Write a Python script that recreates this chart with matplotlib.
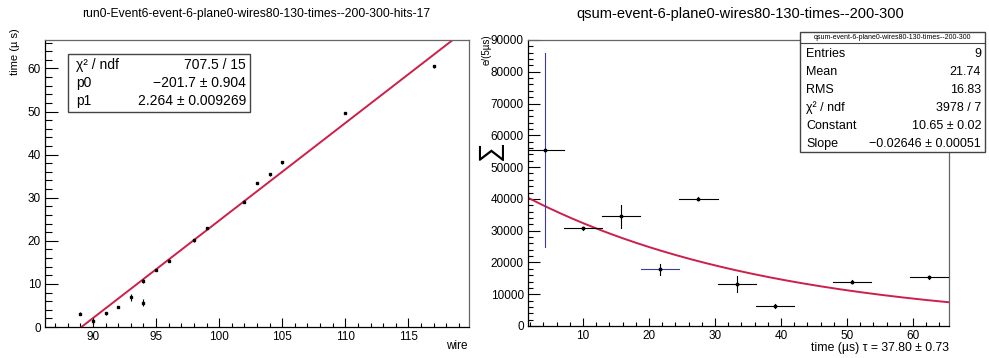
import numpy as np
import matplotlib
matplotlib.use("Agg")
import matplotlib.pyplot as plt
from matplotlib.patches import Rectangle
from matplotlib.ticker import MultipleLocator

plt.rcParams['font.family'] = ['Liberation Sans', 'DejaVu Sans']

# ------------------------------------------------------------
# hits: wire vs time, with the linear fit result
# ------------------------------------------------------------
hit_wire = [89, 90, 91, 92, 93, 94, 94, 95, 96, 98, 99, 102, 103, 104, 105, 110, 117]
hit_time = [3.1, 1.4, 3.2, 4.6, 6.9, 5.6, 10.7, 13.2, 15.4, 20.1, 23.0, 29.1, 33.4, 35.4, 38.2, 49.7, 60.5]
hit_err = [0.3, 0.6, 0.3, 0.3, 0.8, 0.8, 0.4, 0.3, 0.3, 0.3, 0.3, 0.3, 0.3, 0.3, 0.3, 0.3, 0.3]
p0 = -201.7
p1 = 2.264
left_stats = [("χ² / ndf", "707.5 / 15"),
              ("p0", "−201.7 ± 0.904"),
              ("p1", "2.264 ± 0.009269")]

# ------------------------------------------------------------
# charge sum vs drift time, with exponential fit
# ------------------------------------------------------------
q_time = [4.2, 10.0, 15.8, 21.7, 27.5, 33.3, 39.1, 50.8, 62.4]
q_sum = [55300, 30700, 34500, 17800, 40100, 13300, 6300, 13900, 15300]
q_err = [30500, 500, 3700, 1600, 500, 2500, 500, 500, 500]
bin_half = 2.9
fit_const = 10.65
fit_slope = -0.02646
right_stats = [("Entries", "9"),
               ("Mean", "21.74"),
               ("RMS", "16.83"),
               ("χ² / ndf", "3978 / 7"),
               ("Constant", "10.65 ± 0.02"),
               ("Slope", "−0.02646 ± 0.00051")]

W, H = 989, 358
fig = plt.figure(figsize=(W / 100, H / 100), dpi=100)
fig.patch.set_facecolor('white')


def px(x, y):
    return x / W, 1 - y / H


def axes_px(l, t, r, b):
    return fig.add_axes([l / W, 1 - b / H, (r - l) / W, (b - t) / H])


def root_style(ax, ymaj, ymin, xmaj, xmin, ylen, xlen):
    ax.yaxis.set_major_locator(MultipleLocator(ymaj))
    ax.yaxis.set_minor_locator(MultipleLocator(ymin))
    ax.xaxis.set_major_locator(MultipleLocator(xmaj))
    ax.xaxis.set_minor_locator(MultipleLocator(xmin))
    ax.tick_params(which='both', direction='in', top=False, right=False,
                   labelsize=8.5, width=0.8)
    ax.tick_params(axis='y', which='major', length=ylen[0], pad=3)
    ax.tick_params(axis='y', which='minor', length=ylen[1])
    ax.tick_params(axis='x', which='major', length=xlen[0], pad=3)
    ax.tick_params(axis='x', which='minor', length=xlen[1])
    for s in ['top', 'right']:
        ax.spines[s].set_color('#666666')
    for s in ax.spines.values():
        s.set_linewidth(0.9)


red = '#cc1f4a'

# left panel
ax1 = axes_px(45, 40, 469, 327)
ax1.errorbar(hit_wire, hit_time, yerr=hit_err, fmt='s', ms=1.8, color='black',
             ecolor='black', elinewidth=0.8, capsize=0, zorder=3)
wx = np.array([86.2, 119.8])
ax1.plot(wx, p0 + p1 * wx, color=red, lw=1.4, zorder=2)
ax1.set_xlim(86.2, 119.8)
ax1.set_ylim(0, 66.6)
root_style(ax1, 10, 2, 5, 1, (9.5, 4.7), (6.3, 2.8))

# right panel
ax2 = axes_px(528, 40, 949, 326)
ybar_colors = ['#3a3aa0', 'black', 'black', 'black', 'black', 'black', 'black', 'black', 'black']
xbar_colors = ['black', 'black', 'black', '#3a3aa0', 'black', 'black', 'black', 'black', 'black']
for t, q, e, cy, cx in zip(q_time, q_sum, q_err, ybar_colors, xbar_colors):
    ax2.plot([t - bin_half, t + bin_half], [q, q], color=cx, lw=0.8, zorder=3)
    ax2.plot([t, t], [q - e, q + e], color=cy, lw=0.8, zorder=3)
    ax2.plot(t, q, 'o', ms=1.8, color='black', zorder=4)
tx = np.linspace(1.67, 65.45, 200)
ax2.plot(tx, np.exp(fit_const + fit_slope * tx), color=red, lw=1.4, zorder=2)
ax2.set_xlim(1.67, 65.45)
ax2.set_ylim(0, 90000)
root_style(ax2, 10000, 2000, 10, 2, (8.6, 3.6), (5.5, 3.1))

# titles and axis labels
fig.text(*px(256, 14), "run0-Event6-event-6-plane0-wires80-130-times--200-300-hits-17",
         ha='center', va='center', fontsize=8.7)
fig.text(*px(740, 14), "qsum-event-6-plane0-wires80-130-times--200-300",
         ha='center', va='center', fontsize=10.5)
fig.text(*px(468, 346), "wire", ha='right', va='center', fontsize=8.5)
fig.text(*px(949, 348), "time (µs) τ = 37.80 ± 0.73", ha='right', va='center', fontsize=8.8)
fig.text(*px(15, 28), "time (µ s)", rotation=90, ha='center', va='top', fontsize=8)
fig.text(*px(490, 150), "∑", rotation=90, ha='center', va='center', fontsize=20)
fig.text(*px(487, 34), "e/(5µs)", rotation=90, ha='center', va='top', fontsize=7)

# fit statistics boxes
fig.add_artist(Rectangle(px(68, 112), 182 / W, 58 / H, transform=fig.transFigure,
                         facecolor='white', edgecolor='#444444', lw=1.0, zorder=5))
for i, (k, v) in enumerate(left_stats):
    y = 65 + 18 * i
    fig.text(*px(76, y), k, ha='left', va='center', fontsize=10, zorder=6)
    fig.text(*px(246, y), v, ha='right', va='center', fontsize=10, zorder=6)

fig.add_artist(Rectangle(px(800, 152), 185 / W, 120 / H, transform=fig.transFigure,
                         facecolor='white', edgecolor='#444444', lw=1.0, zorder=5))
fig.add_artist(plt.Line2D([800 / W, 985 / W], [1 - 43 / H, 1 - 43 / H],
                          transform=fig.transFigure, color='#444444', lw=0.8, zorder=6))
fig.text(*px(892, 37.5), "qsum-event-6-plane0-wires80-130-times--200-300",
         ha='center', va='center', fontsize=5, zorder=6)
for i, (k, v) in enumerate(right_stats):
    y = 54 + 18 * i
    fig.text(*px(806, y), k, ha='left', va='center', fontsize=9, zorder=6)
    fig.text(*px(981, y), v, ha='right', va='center', fontsize=9, zorder=6)

fig.savefig("out.png", dpi=100, facecolor='white')
